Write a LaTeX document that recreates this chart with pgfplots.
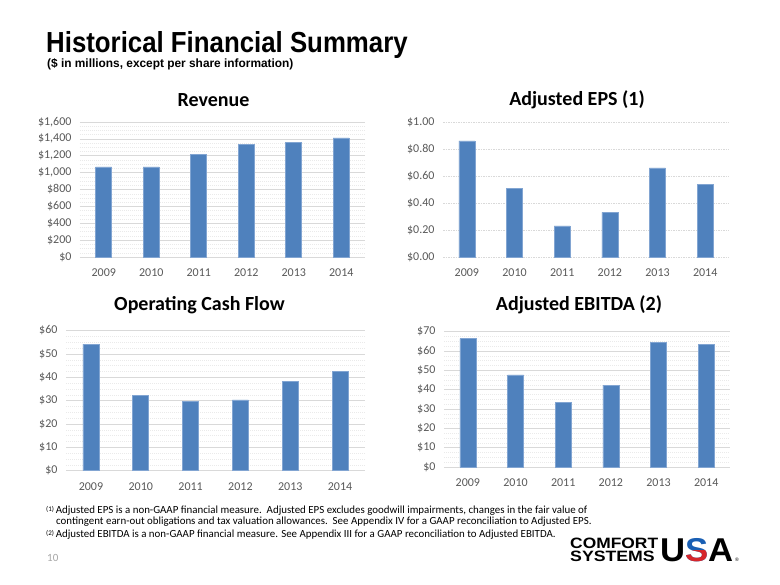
\documentclass[border=0pt]{standalone}
\usepackage{pgfplots}
\pgfplotsset{compat=1.18}
\usepackage{fontspec}
\setmainfont{Carlito}
\newfontfamily\arialfont{Liberation Sans}
\definecolor{barblue}{RGB}{79,129,189}
\definecolor{baredge}{RGB}{130,165,210}
\definecolor{gridgray}{RGB}{217,217,217}
\definecolor{tickgray}{RGB}{89,89,89}
\definecolor{usared}{RGB}{215,38,43}
\definecolor{usablue}{RGB}{25,95,180}
\pgfplotsset{
  mybar/.style={
    scale only axis, anchor=south west,
    ybar, bar width=16pt,
    xmin=-0.5, xmax=5.5, xtick={0,1,2,3,4,5},
    xticklabels={2009,2010,2011,2012,2013,2014},
    ymin=0,
    axis line style={draw=none},
    major tick style={draw=none}, minor tick style={draw=none},
    ymajorgrids, major grid style={draw=gridgray, line width=0.6pt},
    minor grid style={draw=gridgray!55, line width=0.4pt, dash pattern=on 1pt off 1pt},
    tick label style={font=\fontsize{12}{13}\selectfont, text=tickgray},
    yticklabel style={xshift=-5pt},
    xticklabel style={yshift=-4pt},
    /pgf/number format/assume math mode=true,
    title style={font=\fontsize{20}{23}\selectfont\bfseries, at={(0.5,1)}, anchor=center},
    clip=false,
  },
  mybars/.style={fill=barblue, draw=baredge, line width=0.5pt},
}
\begin{document}
\begin{tikzpicture}
\path[use as bounding box, fill=white] (0pt,0pt) rectangle (780pt,585pt);

% Main title
\node[anchor=base west, inner sep=0pt, font=\arialfont\fontsize{29}{32}\selectfont\bfseries] at (46pt,532pt) {\scalebox{0.89}[1]{Historical Financial Summary}};
\node[anchor=base west, inner sep=0pt, font=\arialfont\fontsize{12}{14}\selectfont\bfseries] at (47pt,517.5pt) {\scalebox{0.99}[1]{(\$ in millions, except per share information)}};

% Revenue
\begin{axis}[mybar, at={(80pt,328pt)}, width=285pt, height=135pt,
  ymax=1600, ytick={0,200,...,1600},
  yticklabels={\$0,\$200,\$400,\$600,\$800,{\$1,000},{\$1,200},{\$1,400},{\$1,600}},
  minor y tick num=3, yminorgrids,
  title={Revenue}, title style={yshift=16pt, xshift=-9pt}]
\addplot[mybars] coordinates {(0,1068) (1,1068) (2,1219) (3,1334) (4,1362) (5,1413)};
\end{axis}

% Adjusted EPS
\begin{axis}[mybar, at={(443pt,328pt)}, width=286pt, height=135pt,
  ymax=1, ytick={0,0.2,0.4,0.6,0.8,1},
  yticklabels={\$0.00,\$0.20,\$0.40,\$0.60,\$0.80,\$1.00},
  major grid style={draw=gridgray, line width=0.6pt, dash pattern=on 1.5pt off 1pt},
  title={Adjusted EPS (1)}, title style={yshift=16pt, xshift=-9pt}]
\addplot[mybars] coordinates {(0,0.86) (1,0.51) (2,0.23) (3,0.33) (4,0.66) (5,0.54)};
\end{axis}

% Operating Cash Flow
\begin{axis}[mybar, at={(66pt,114.3pt)}, width=299pt, height=140.2pt,
  ymax=60, ytick={0,10,...,60},
  yticklabels={\$0,\$10,\$20,\$30,\$40,\$50,\$60},
  minor y tick num=3, yminorgrids,
  title={Operating Cash Flow}, title style={yshift=19.5pt, xshift=-16pt}]
\addplot[mybars] coordinates {(0,54.2) (1,32.1) (2,29.7) (3,30.3) (4,38.2) (5,42.5)};
\end{axis}

% Adjusted EBITDA
\begin{axis}[mybar, at={(444pt,118pt)}, width=286pt, height=135.3pt,
  ymax=70, ytick={0,10,...,70},
  yticklabels={\$0,\$10,\$20,\$30,\$40,\$50,\$60,\$70},
  minor y tick num=3, yminorgrids,
  title={Adjusted EBITDA (2)}, title style={yshift=20.5pt, xshift=-8pt}]
\addplot[mybars] coordinates {(0,66.4) (1,47.6) (2,33.4) (3,42.2) (4,64.3) (5,63.4)};
\end{axis}

% Footnotes
\begin{scope}[every node/.style={anchor=base west, inner sep=0pt, font=\fontsize{10.9}{12}\selectfont}]
\node at (46pt,71pt) {\raisebox{0.45ex}{\fontsize{7}{8}\selectfont(1)}\,Adjusted EPS is a non-GAAP financial measure.\ \ Adjusted EPS excludes goodwill impairments, changes in the fair value of};
\node at (56pt,60pt) {contingent earn-out obligations and tax valuation allowances.\ \ See Appendix IV for a GAAP reconciliation to Adjusted EPS.};
\node at (46pt,47pt) {\raisebox{0.45ex}{\fontsize{7}{8}\selectfont(2)}\,Adjusted EBITDA is a non-GAAP financial measure. See Appendix III for a GAAP reconciliation to Adjusted EBITDA.};
\end{scope}
\node[anchor=base west, inner sep=0pt, font=\fontsize{11}{12}\selectfont, text=gray!70] at (47pt,23pt) {10};

% Logo
\node[anchor=north west, inner sep=0pt, align=left, font=\arialfont\bfseries\fontsize{15}{13}\selectfont] at (570pt,47.5pt) {\scalebox{1.16}[1]{COMFORT}\\\scalebox{1.18}[1]{SYSTEMS}};
\node[anchor=base west, inner sep=0pt, font=\arialfont\bfseries\fontsize{33}{33}\selectfont] at (660pt,23pt) {\scalebox{1.05}[1]{U}};
\node[anchor=base west, inner sep=0pt, font=\arialfont\bfseries\fontsize{33}{33}\selectfont, text=usablue] at (685pt,23pt) {\scalebox{1.05}[1]{S}};
\begin{scope}
\clip (683pt,10pt) rectangle (712pt,34pt);
\node[anchor=base west, inner sep=0pt, font=\arialfont\bfseries\fontsize{33}{33}\selectfont, text=usared] at (685pt,23pt) {\scalebox{1.05}[1]{S}};
\end{scope}
\node[anchor=base west, inner sep=0pt, font=\arialfont\bfseries\fontsize{33}{33}\selectfont] at (708pt,23pt) {\scalebox{1.05}[1]{A}};
\node[anchor=base west, inner sep=0pt, font=\arialfont\fontsize{5}{5}\selectfont] at (735pt,23pt) {\textregistered};
\end{tikzpicture}
\end{document}
